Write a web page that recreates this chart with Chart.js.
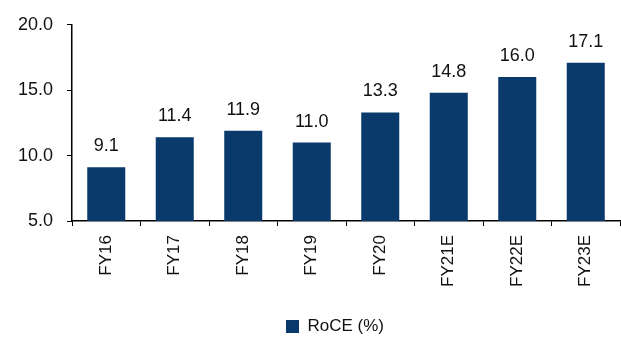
<!DOCTYPE html>
<html>
<head>
<meta charset="utf-8">
<script src="https://cdn.jsdelivr.net/npm/chart.js@4"></script>
<style>
  body { margin: 0; background: #fff; }
  #roceChart { display: block; }
</style>
</head>
<body>
<canvas id="roceChart" width="621" height="338"></canvas>
<script>
const years = ["FY16", "FY17", "FY18", "FY19", "FY20", "FY21E", "FY22E", "FY23E"];
const roce = [9.1, 11.4, 11.9, 11.0, 13.3, 14.8, 16.0, 17.1];
const yTicks = [5, 10, 15, 20];

const fontName = "'Liberation Sans', Arial, sans-serif";

// value labels above each bar
const barLabels = {
  id: "barLabels",
  afterDatasetsDraw(chart) {
    const ctx = chart.ctx;
    const meta = chart.getDatasetMeta(0);
    ctx.save();
    ctx.font = "18px " + fontName;
    ctx.fillStyle = "#111";
    ctx.textAlign = "center";
    ctx.textBaseline = "alphabetic";
    meta.data.forEach((bar, i) => {
      ctx.fillText(roce[i].toFixed(1), bar.x, bar.y - 16);
    });
    ctx.restore();
  }
};

// legend in the original sits a bit right of the canvas centre
const legendShift = {
  id: "legendShift",
  afterLayout(chart) {
    chart.legend.left += 25;
    chart.legend.right += 25;
  }
};

new Chart(document.getElementById("roceChart"), {
  type: "bar",
  data: {
    labels: years,
    datasets: [{
      label: "RoCE (%)",
      data: roce,
      backgroundColor: "#0A3A6B",
      categoryPercentage: 0.555,
      barPercentage: 1
    }]
  },
  options: {
    responsive: false,
    animation: false,
    layout: { padding: { top: 14, right: 1, left: 0, bottom: -7 } },
    plugins: {
      legend: {
        position: "bottom",
        labels: {
          boxWidth: 13,
          boxHeight: 13,
          padding: 2,
          color: "#111",
          font: { family: fontName, size: 17 }
        }
      },
      tooltip: { enabled: false }
    },
    scales: {
      x: {
        offset: true,
        afterFit: (axis) => { axis.height = 95; },
        grid: {
          offset: true,
          drawOnChartArea: false,
          tickLength: 5,
          color: "#000"
        },
        border: { color: "#000", width: 1.5 },
        ticks: {
          color: "#111",
          font: { family: fontName, size: 17 },
          minRotation: 90,
          maxRotation: 90,
          padding: 9
        }
      },
      y: {
        min: 5,
        max: 20,
        afterBuildTicks: (axis) => { axis.ticks = yTicks.map(v => ({ value: v })); },
        afterFit: (axis) => { axis.width = 72; },
        grid: {
          drawOnChartArea: false,
          tickLength: 5,
          color: "#000"
        },
        border: { color: "#000", width: 1.5 },
        ticks: {
          color: "#111",
          font: { family: fontName, size: 18 },
          padding: 14,
          callback: (v) => Number(v).toFixed(1)
        }
      }
    }
  },
  plugins: [barLabels, legendShift]
});
</script>
</body>
</html>
